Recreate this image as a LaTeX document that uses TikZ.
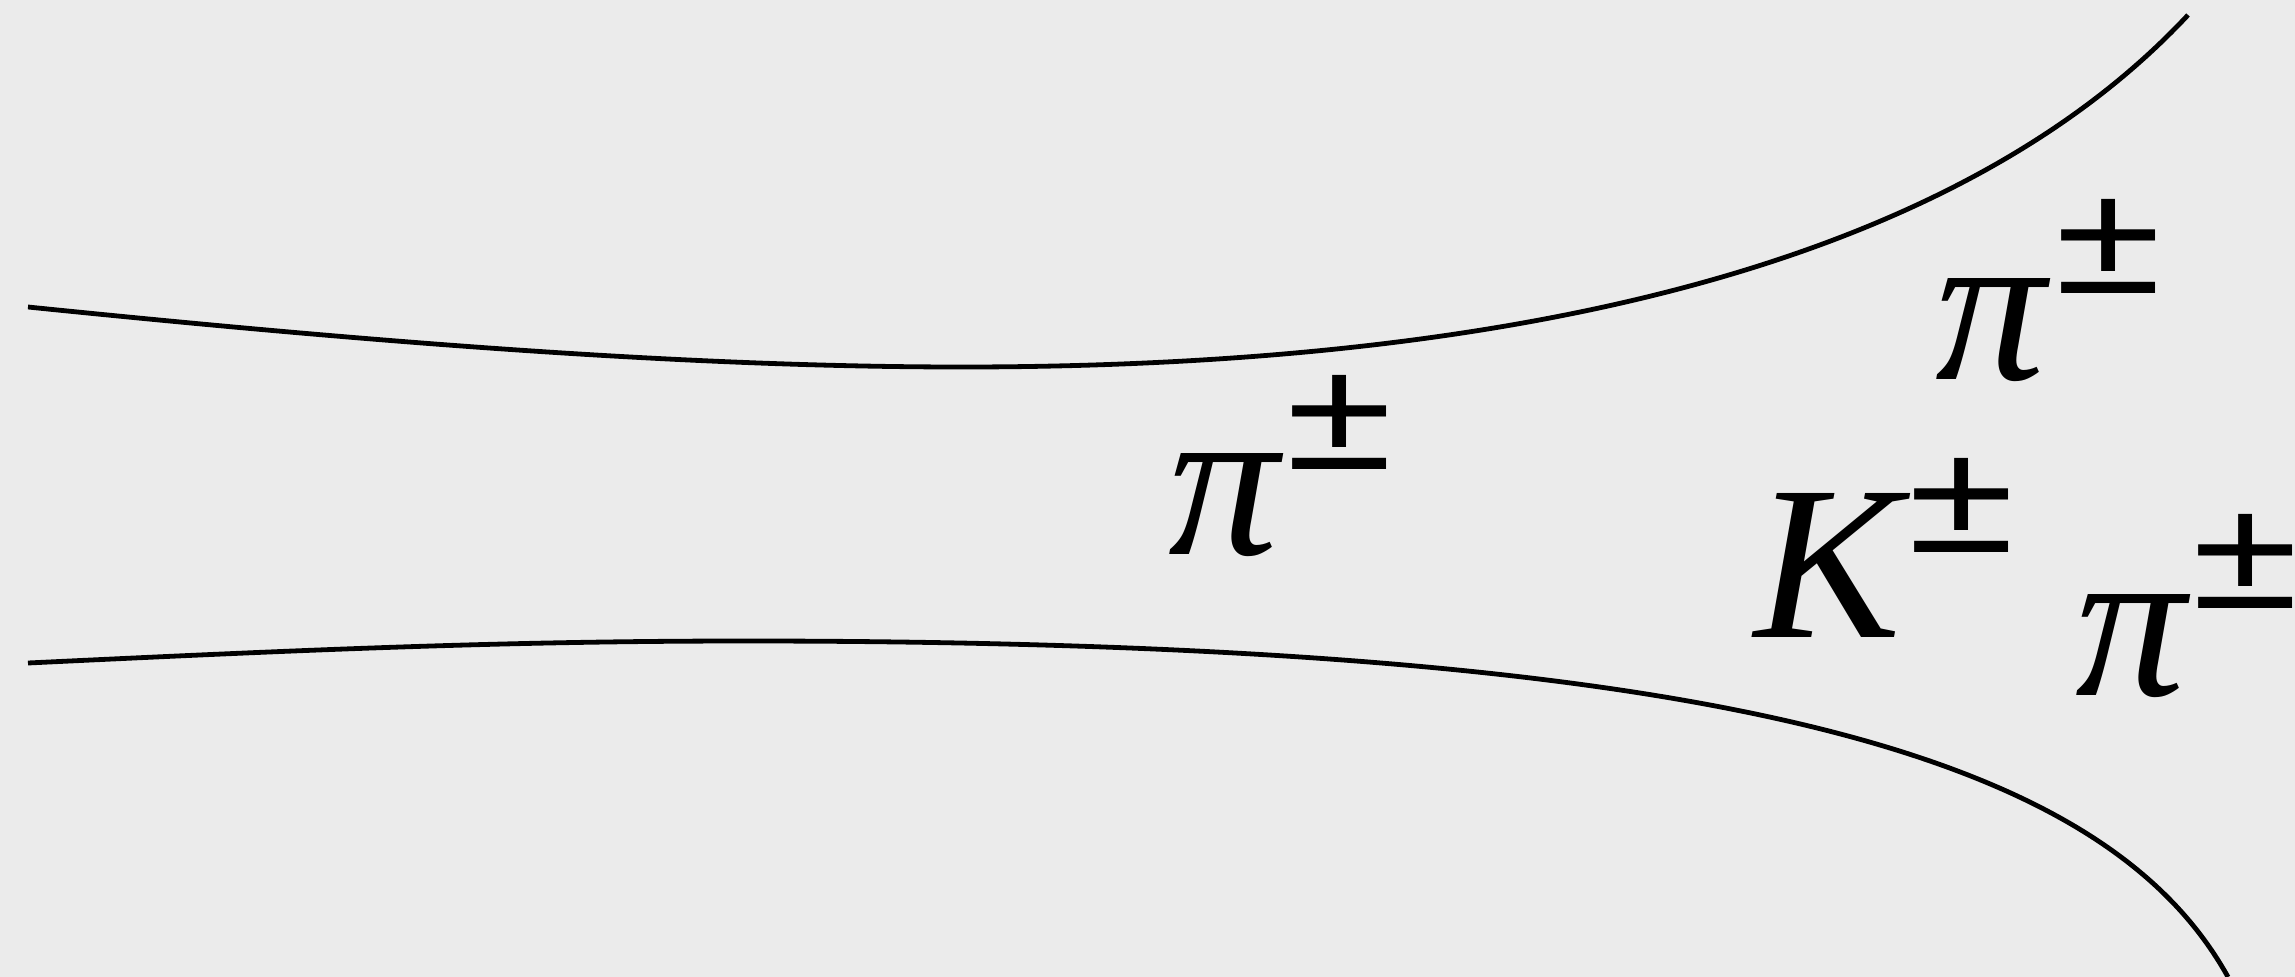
\documentclass[tikz,border=0pt]{standalone}
\usepackage{fontspec}
\setmainfont{Liberation Serif}
\newfontfamily\pmfont{Liberation Sans}
\usepackage{graphicx}
\definecolor{bg}{RGB}{235,235,235}
\newcommand{\pmglyph}{\resizebox{106pt}{94pt}{\pmfont ±}}
\begin{document}
\begin{tikzpicture}[x=1pt,y=-1pt,
  curve/.style={line width=4.8pt, black, line join=round},
  lbl/.style={inner sep=0pt, anchor=base, font=\fontsize{220pt}{220pt}\selectfont\itshape},
  pm/.style={inner sep=0pt, anchor=center}]
\fill[bg] (0,0) rectangle (2295,977);
\useasboundingbox (0,0) rectangle (2295,977);
\clip (0,0) rectangle (2295,977);
% upper curve
\coordinate (u0) at (28,307);
\coordinate (u1) at (962,367);
\coordinate (u2) at (2188,15);
\draw[curve] (u0) .. controls (400,345) and (700,367) .. (u1)
                  .. controls (1500,367) and (1950,270) .. (u2);
% lower curve
\coordinate (l0) at (28,663);
\coordinate (l1) at (746,641);
\coordinate (l3) at (2228,977);
\draw[curve] (l0) .. controls (300,650) and (500,641) .. (l1)
                  .. controls (1746,641) and (2108,761) .. (l3);
% labels
\node[lbl] (pi1) at (1223.5,554) {π};
\node[pm] (pm1) at (1340,422) {\pmglyph};
\node[lbl] (pi2) at (1990.5,379) {π};
\node[pm] (pm2) at (2109,246) {\pmglyph};
\node[lbl] (k) at (1828,637) {K};
\node[pm] (pmk) at (1962,505) {\pmglyph};
\node[lbl] (pi3) at (2130.5,695) {π};
\node[pm] (pm3) at (2246,561.5) {\pmglyph};
\end{tikzpicture}
\end{document}
